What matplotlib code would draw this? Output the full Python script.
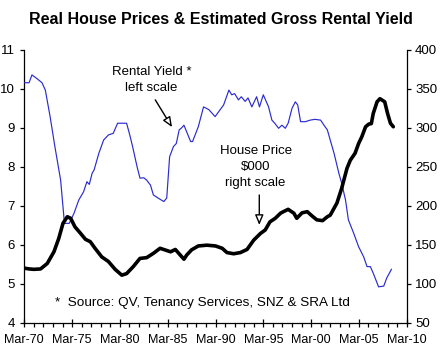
import matplotlib
matplotlib.use("Agg")
import matplotlib.pyplot as plt
import numpy as np

plt.rcParams['font.family'] = ['Liberation Sans', 'DejaVu Sans']

# Rental yield (left scale, %)
yield_years = [1970.0, 1970.5, 1970.8, 1971.3, 1971.85, 1972.2, 1972.7, 1973.2, 1973.8, 1974.2,
               1974.7, 1975.2, 1975.7, 1976.2, 1976.55, 1976.8, 1977.1, 1977.3, 1977.8, 1978.3,
               1978.8, 1979.3, 1979.76, 1980.7, 1981.0, 1981.3, 1981.8, 1982.1, 1982.5, 1982.8,
               1983.2, 1983.5, 1984.05, 1984.6, 1984.9, 1985.2, 1985.6, 1985.9, 1986.2, 1986.45,
               1986.7, 1987.4, 1987.6, 1988.2, 1988.75, 1989.3, 1989.96, 1990.7, 1990.85, 1991.4,
               1991.7, 1992.0, 1992.4, 1992.7, 1993.1, 1993.4, 1993.8, 1994.3, 1994.6, 1995.0,
               1995.55, 1995.9, 1996.2, 1996.6, 1996.95, 1997.3, 1997.6, 1998.0, 1998.35, 1998.6,
               1998.9, 1999.4, 1999.9, 2000.4, 2001.0, 2001.4, 2001.7, 2002.0, 2002.4, 2002.9,
               2003.2, 2003.6, 2003.9, 2004.45, 2004.97, 2005.5, 2005.85, 2006.2, 2006.5, 2007.06,
               2007.6, 2007.9, 2008.4]
yield_vals = [10.16, 10.16, 10.36, 10.27, 10.16, 9.97, 9.29, 8.52, 7.66, 6.55,
              6.55, 6.81, 7.15, 7.36, 7.62, 7.55, 7.84, 7.92, 8.35, 8.69,
              8.82, 8.86, 9.12, 9.12, 8.85, 8.55, 8.0, 7.71, 7.72, 7.66,
              7.53, 7.28, 7.19, 7.11, 7.2, 8.26, 8.52, 8.6, 8.95, 9.0,
              9.07, 8.65, 8.65, 9.03, 9.54, 9.47, 9.29, 9.54, 9.59, 9.97,
              9.85, 9.88, 9.72, 9.8, 9.68, 9.77, 9.54, 9.8, 9.54, 9.85,
              9.54, 9.2, 9.12, 8.99, 9.07, 8.99, 9.12, 9.5, 9.67, 9.59,
              9.16, 9.16, 9.2, 9.22, 9.2, 9.05, 8.95, 8.69, 8.35, 7.84,
              7.58, 7.15, 6.64, 6.3, 5.95, 5.69, 5.44, 5.44, 5.27, 4.92,
              4.94, 5.14, 5.37]

# Real house price (right scale, $000)
price_years = [1970.0, 1970.5, 1971.0, 1971.7, 1972.4, 1973.1, 1973.6, 1974.05, 1974.5, 1974.85,
               1975.3, 1975.86, 1976.4, 1976.9, 1977.4, 1978.1, 1978.8, 1979.5, 1980.2, 1980.7,
               1981.4, 1982.1, 1982.8, 1983.5, 1984.2, 1984.7, 1985.3, 1985.8, 1986.3, 1986.7,
               1987.0, 1987.5, 1988.2, 1989.1, 1990.0, 1990.7, 1991.2, 1991.9, 1992.6, 1993.3,
               1994.0, 1994.7, 1995.2, 1995.7, 1996.25, 1996.8, 1997.1, 1997.6, 1998.2, 1998.5,
               1999.05, 1999.6, 2000.1, 2000.6, 2001.2, 2001.7, 2002.0, 2002.7, 2003.2, 2003.75,
               2004.1, 2004.6, 2004.97, 2005.3, 2005.7, 2006.05, 2006.3, 2006.5, 2006.9, 2007.2,
               2007.7, 2008.0, 2008.3, 2008.6]
price_vals = [120, 119, 118.5, 119, 126, 141, 158, 177.6, 186, 184,
              173, 165, 157, 154, 145.5, 134.5, 128.5, 118.5, 111, 113,
              122, 132.5, 133.5, 139, 145.5, 143.5, 141, 144, 137, 131.5,
              137, 143.5, 148.5, 149.5, 148.5, 145.5, 140, 138.5, 140, 144,
              156, 164.5, 169, 179.5, 184, 190.5, 192.5, 195.5, 190.5, 184,
              191, 192.5, 187, 182, 181, 186, 188, 203.5, 222.5, 248,
              258.5, 267.5, 280, 288.5, 301.5, 305, 305.5, 318.5, 333.5, 337.5,
              333.5, 318.5, 306, 301.5]

x_tick_years = [1970, 1975, 1980, 1985, 1990, 1995, 2000, 2005, 2010]
x_tick_labels = ['Mar-70', 'Mar-75', 'Mar-80', 'Mar-85', 'Mar-90', 'Mar-95', 'Mar-00', 'Mar-05', 'Mar-10']
left_ticks = [4, 5, 6, 7, 8, 9, 10, 11]
right_ticks = [50, 100, 150, 200, 250, 300, 350, 400]

title = 'Real House Prices & Estimated Gross Rental Yield'
source_note = '*  Source: QV, Tenancy Services, SNZ & SRA Ltd'

fig = plt.figure(figsize=(4.42, 3.58), dpi=100)
ax = fig.add_axes([24.3 / 442, 1 - 322.7 / 358, (406.7 - 24.3) / 442, (322.7 - 50) / 358])
ax2 = ax.twinx()

ax.plot(yield_years, yield_vals, color='#2b2bd0', lw=0.85, zorder=3)
ax2.plot(price_years, price_vals, color='black', lw=2.6, solid_capstyle='round',
         solid_joinstyle='round', zorder=3)

ax.set_xlim(1970, 2010)
ax.set_ylim(4, 11)
ax2.set_ylim(50, 400)
ax.set_yticks(left_ticks)
ax2.set_yticks(right_ticks)
ax.set_xticks(x_tick_years)
ax.set_xticklabels(x_tick_labels)
ax.set_xticks(np.arange(1970, 2011, 1), minor=True)

for a in (ax, ax2):
    a.spines['top'].set_visible(False)
    a.set_facecolor('none')
ax.spines['right'].set_visible(False)
ax2.spines['left'].set_visible(False)
ax2.spines['bottom'].set_visible(False)
for s in ('left', 'bottom'):
    ax.spines[s].set_linewidth(0.9)
ax2.spines['right'].set_linewidth(0.9)

ax.tick_params(axis='y', direction='out', length=3, width=0.9, labelsize=9.5, pad=4)
ax2.tick_params(axis='y', direction='out', length=3, width=0.9, labelsize=9.5, pad=3)
ax.tick_params(axis='x', which='major', direction='inout', length=6, width=0.9, labelsize=9, pad=5)
ax.tick_params(axis='x', which='minor', direction='out', length=3, width=0.9)

fig.text(0.5, 1 - 20 / 358, title, ha='center', va='center', fontsize=11.5, fontweight='bold')

ax.text(0.08, 0.072, source_note, transform=ax.transAxes, ha='left', va='center', fontsize=9.7)

arrow_style = dict(arrowstyle='-|>,head_length=0.6,head_width=0.25', fc='white', ec='black',
                   lw=1.0, shrinkA=0, shrinkB=0)

ax.text(1983.28, 10.24, 'Rental Yield *\nleft scale', ha='center', va='center',
        fontsize=9.5, linespacing=1.45)
ax.annotate('', xy=(1985.45, 9.02), xytext=(1983.7, 9.72), arrowprops=arrow_style)

ax2.text(1994.2, 249.8, 'House Price\n$000\nright scale', ha='center', va='center',
         fontsize=9.5, linespacing=1.45)
ax2.annotate('', xy=(1994.58, 175.4), xytext=(1994.58, 213.9), arrowprops=arrow_style)

fig.savefig('out.png', dpi=100)
